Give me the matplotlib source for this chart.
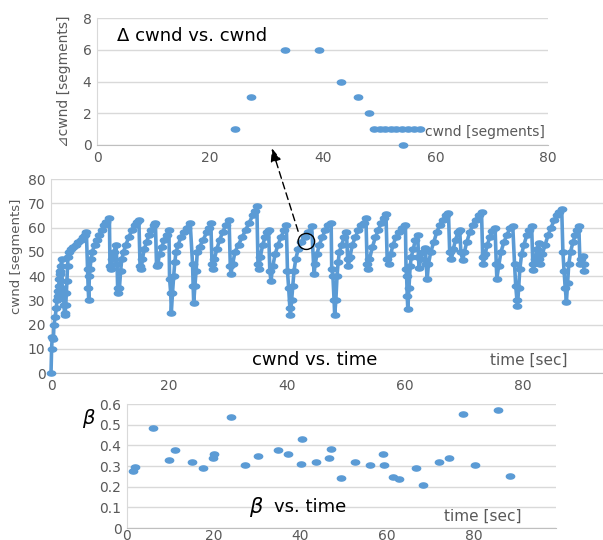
# cwnd / delta-cwnd / beta charts (Excel style)

import numpy as np
import matplotlib.pyplot as plt
from matplotlib.patches import ConnectionPatch, Ellipse
from matplotlib.path import Path

# --- Data: delta cwnd vs cwnd ---
dc_cwnd = [24.4, 27.3, 33.3, 39.4, 43.3, 46.3, 48.2,
           49.1, 50.1, 51.1, 52.1, 53.1, 54.1, 55.1, 56.2, 57.3, 54.2]
dc_delta = [1, 3, 6, 6, 4, 3, 2,
            1, 1, 1, 1, 1, 1, 1, 1, 1, 0]

# --- Data: cwnd vs time ---
cw_time = [
    0.0, 0.1, 0.2, 0.4, 0.5, 0.7, 0.9, 1.0, 1.1, 1.2, 1.3, 1.4, 1.5, 1.6, 1.7, 1.8,
    1.9, 2.1, 2.2, 2.3, 2.4, 2.5, 2.6, 2.7, 2.8, 2.9, 3.1, 3.4, 3.8, 4.2, 4.6, 5.0, 5.4, 5.8, 6.0,
    6.2, 6.3, 6.4, 6.5, 6.6, 6.8, 7.0, 7.4, 7.8, 8.2, 8.6, 9.0, 9.4, 9.9,
    10.0, 10.2, 10.4, 10.7, 11.0,
    11.2, 11.3, 11.4, 11.6, 11.8, 12.0, 12.3, 12.7, 13.2, 13.7, 14.2, 14.6, 14.9,
    15.1, 15.3, 15.5, 15.8, 16.2, 16.6, 17.0, 17.4, 17.7,
    17.9, 18.1, 18.4, 18.8, 19.2, 19.6, 20.0,
    20.1, 20.3, 20.4, 20.6, 20.8, 21.0, 21.2, 21.6, 22.0, 22.5, 23.0, 23.6,
    24.0, 24.1, 24.2, 24.4, 24.6, 24.8, 25.2, 25.8, 26.4, 26.8, 27.1,
    27.3, 27.4, 27.7, 28.1, 28.6, 29.1, 29.6, 30.2,
    30.4, 30.5, 30.8, 31.2, 31.8, 32.4, 33.0, 33.6, 34.2, 34.6, 34.9,
    35.1, 35.2, 35.5, 35.9, 36.3, 36.7, 36.9,
    37.1, 37.3, 37.6, 38.0, 38.5, 39.0, 39.5, 39.9,
    40.1, 40.3, 40.5, 40.6, 40.8, 41.0, 41.2, 41.5, 41.9, 42.4, 43.0, 43.6, 44.2,
    44.6, 44.8, 45.1, 45.5, 46.0, 46.5, 47.0, 47.5,
    47.6, 47.8, 48.0, 48.1, 48.3, 48.5, 48.7, 48.9, 49.3, 49.7, 50.1,
    50.3, 50.4, 50.7, 51.1, 51.6, 52.1, 52.6, 53.0, 53.4,
    53.6, 53.7, 54.0, 54.5, 55.0, 55.5, 56.0, 56.4, 56.8,
    57.0, 57.3, 57.6, 58.0, 58.5, 59.0, 59.6, 60.1,
    60.2, 60.3, 60.4, 60.5, 60.7, 60.9, 61.1, 61.4, 61.8, 62.2,
    62.3, 62.4, 62.7, 63.1, 63.5,
    63.6, 63.8, 64.0, 64.4, 64.9, 65.4, 65.9, 66.4, 66.9, 67.4,
    67.6, 67.9, 68.2, 68.6, 69.0, 69.3,
    69.5, 69.8, 70.1, 70.5, 71.0, 71.5, 72.0, 72.5, 73.0,
    73.2, 73.3, 73.6, 74.0, 74.4, 74.8, 75.3,
    75.5, 75.6, 75.9, 76.3, 76.8, 77.3, 77.9, 78.3,
    78.6, 78.8, 79.0, 79.1, 79.3, 79.5, 79.8, 80.2, 80.7, 81.1, 81.5,
    81.7, 81.8, 82.1, 82.4, 82.7,
    82.8, 82.9, 83.3, 83.8, 84.3, 84.8, 85.3, 85.8, 86.2, 86.6,
    86.8, 87.0, 87.2, 87.4, 87.6, 87.8, 88.1, 88.5, 88.9, 89.2, 89.5,
    89.7, 89.9, 90.2, 90.3, 90.4,
]
cw_value = [
    0, 10, 15, 14, 20, 23, 27, 30, 32, 34, 36, 39, 41, 42, 44, 47,
    35, 33, 28, 24, 25, 28, 33, 38, 44, 48, 50, 51, 52, 53, 54, 55, 56, 57, 58,
    43, 35, 30, 40, 43, 47, 50, 53, 55, 57, 59, 61, 62.5, 64,
    44, 43, 47, 50, 53,
    45, 35, 33, 35, 42, 47, 50, 53, 56, 59, 61, 62.5, 63,
    44, 43, 47, 51, 54, 57, 59, 61, 62,
    44, 45, 49, 52, 55, 57, 59,
    39, 33, 25, 33, 40, 46, 50, 53, 56, 58, 60, 62,
    45, 36, 29, 36, 42, 50, 52, 55, 58, 60, 62,
    45, 43, 47, 51, 55, 58, 61, 63,
    44, 41, 45, 50, 53, 56, 59, 62, 65, 67, 69,
    45, 43, 48, 53, 56, 58, 59,
    42, 38, 44, 49, 53, 56, 59, 61,
    42, 35, 27, 24, 30, 36, 42, 47, 51, 54, 56, 58, 60.5,
    41, 45, 49, 53, 56, 59, 61, 62,
    43, 40, 30, 24, 30, 40, 46, 50, 53, 56, 58,
    47, 44, 48, 53, 56, 59, 61, 62, 64,
    45, 43, 47, 52, 56, 59, 62, 64, 65.5,
    47, 45, 49, 53, 56, 58, 60, 61,
    43, 40, 32, 26.5, 35, 44, 48, 51, 55, 57,
    48, 43.5, 47, 50, 51.5,
    45, 39, 45, 50, 54, 58, 61, 63, 65, 66,
    50, 47, 51, 55, 58, 59,
    50, 46.5, 50, 54, 58, 61, 63, 65, 66.5,
    48, 45, 49, 53, 56, 58.5, 60,
    45, 39, 44, 50, 54, 57, 60, 60.5,
    45, 36, 30, 27.5, 35, 43, 49, 53, 57, 59, 60.5,
    45, 42.5, 47, 51, 53.5,
    47, 45, 49, 53, 57, 60, 63, 65, 66.5, 67.5,
    50, 42, 35, 29.5, 37, 45, 50, 54, 57, 59, 60.5,
    45, 47, 48.5, 45, 42,
]

# --- Data: beta vs time ---
beta_time = [1.5, 1.9, 6.0, 9.6, 11.0, 14.9, 17.5, 19.8, 20.1, 24.0, 27.2, 30.3,
             34.8, 37.1, 40.1, 40.3, 43.6, 46.7, 47.1, 49.5, 52.6, 56.1, 59.1, 59.4,
             61.3, 62.7, 66.6, 68.4, 72.0, 74.2, 77.5, 80.3, 85.7, 88.3]
beta_value = [0.277, 0.294, 0.484, 0.329, 0.379, 0.318, 0.290, 0.340, 0.360, 0.536,
              0.306, 0.350, 0.378, 0.357, 0.312, 0.430, 0.318, 0.340, 0.384, 0.240,
              0.318, 0.307, 0.360, 0.307, 0.248, 0.235, 0.291, 0.210, 0.318, 0.340,
              0.552, 0.303, 0.570, 0.250]

BLUE = '#5B9BD5'
GRID = '#D9D9D9'
TICK = '#595959'

# flattened ellipse marker, like the Excel export
ang = np.linspace(0, 2 * np.pi, 40)
oval = Path(np.column_stack([np.cos(ang), 0.62 * np.sin(ang)]), closed=True)


def excel_axes(ax):
    for side in ['top', 'right']:
        ax.spines[side].set_visible(False)
    ax.spines['left'].set_color(GRID)
    ax.spines['bottom'].set_color('#BFBFBF')
    ax.grid(axis='y', color=GRID, linewidth=1)
    ax.set_axisbelow(True)
    ax.tick_params(length=0, labelsize=10, labelcolor=TICK, pad=4)


fig = plt.figure(figsize=(6.03, 5.40), dpi=100)

# --- top: delta cwnd vs cwnd ---
ax1 = fig.add_axes([0.161, 0.7315, 0.748, 0.235])
excel_axes(ax1)
ax1.scatter(dc_cwnd, dc_delta, s=36, marker=oval, color=BLUE, zorder=3, clip_on=False)
ax1.set_xlim(0, 80)
ax1.set_ylim(0, 8)
ax1.set_xticks([0, 20, 40, 60, 80])
ax1.set_yticks([0, 2, 4, 6, 8])
ax1.set_ylabel('⊿cwnd [segments]', fontsize=10, color=TICK,
               family=['DejaVu Sans', 'Noto Sans CJK JP'])
ax1.yaxis.set_label_coords(-0.058, 0.5)
ax1.text(3.5, 6.9, 'Δ cwnd vs. cwnd', fontsize=13, va='center', ha='left')
ax1.text(79.5, 0.8, 'cwnd [segments]', fontsize=10, color=TICK, va='center', ha='right')

# --- middle: cwnd vs time ---
ax2 = fig.add_axes([0.0846, 0.309, 0.9154, 0.3593])
excel_axes(ax2)
ax2.plot(cw_time, cw_value, color=BLUE, linewidth=2.6, marker=oval, markersize=6,
         zorder=3, clip_on=False)
ax2.set_xlim(0, 93.6)
ax2.set_ylim(0, 80)
ax2.set_xticks([0, 20, 40, 60, 80])
ax2.set_yticks(range(0, 81, 10))
ax2.set_ylabel('cwnd [segments]', fontsize=9.5, color=TICK)
ax2.yaxis.set_label_coords(-0.05, 0.6)
ax2.text(34, 5.3, 'cwnd vs. time', fontsize=13, va='center', ha='left')
ax2.text(87.6, 5.3, 'time [sec]', fontsize=11, color=TICK, va='center', ha='right')

# circle + dashed arrow linking the panels
ax2.add_patch(Ellipse((43.3, 54.3), 2.8, 6.6, fill=False, edgecolor='black',
                      linewidth=1, zorder=5))
con = ConnectionPatch(xyA=(41.9, 58.5), coordsA=ax2.transData,
                      xyB=(31.0, -0.2), coordsB=ax1.transData,
                      arrowstyle='-|>,head_length=0.5,head_width=0.2',
                      mutation_scale=16, linestyle=(0, (5, 3)),
                      color='black', linewidth=1, zorder=6)
fig.add_artist(con)

# --- bottom: beta vs time ---
ax3 = fig.add_axes([0.2106, 0.0222, 0.7114, 0.2296])
excel_axes(ax3)
ax3.tick_params(axis='x', pad=1)
ax3.scatter(beta_time, beta_value, s=36, marker=oval, color=BLUE, zorder=3)
ax3.set_xlim(0, 99)
ax3.set_ylim(0, 0.6)
ax3.set_xticks([0, 20, 40, 60, 80])
ax3.set_yticks([0, 0.1, 0.2, 0.3, 0.4, 0.5, 0.6])
ax3.set_yticklabels(['0', '0.1', '0.2', '0.3', '0.4', '0.5', '0.6'])
ax3.text(-0.09, 0.88, 'β', fontsize=14, style='italic', transform=ax3.transAxes,
         va='center', ha='center')
ax3.text(28.2, 0.103, 'β', fontsize=15, style='italic', va='center', ha='left')
ax3.text(34, 0.103, 'vs. time', fontsize=13, va='center', ha='left')
ax3.text(91, 0.056, 'time [sec]', fontsize=11, color=TICK, va='center', ha='right')

plt.savefig('out.png', dpi=100)
